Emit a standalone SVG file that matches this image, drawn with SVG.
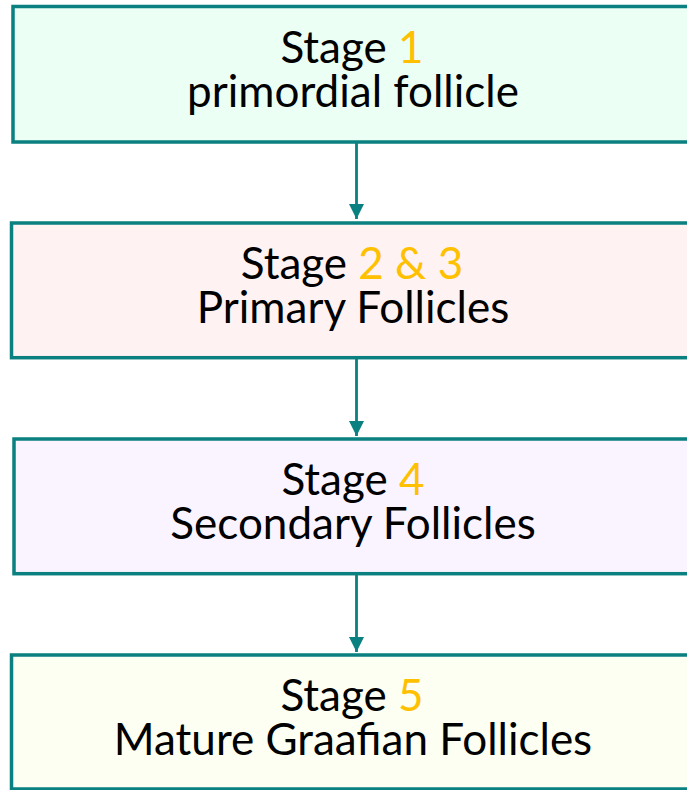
<svg xmlns="http://www.w3.org/2000/svg" width="687" height="790" viewBox="0 0 687 790">
<style>
.box{stroke:#0a8080;stroke-width:3.5}
.t{font-family:Lato,"Open Sans","Liberation Sans",sans-serif;font-size:44px;fill:#000;text-anchor:middle}
.o{fill:#ffc000}
.c{stroke:#0a8080;stroke-width:2.8;fill:none}
</style>
<defs>
<marker id="ah" markerUnits="userSpaceOnUse" markerWidth="16" markerHeight="16" refX="15" refY="7.5" orient="auto">
<path d="M0,0 L15,7.5 L0,15 Z" fill="#0a8080"/>
</marker>
</defs>
<rect width="687" height="790" fill="#fff"/>
<g id="connectors">
<line class="c" x1="356.5" y1="143" x2="356.5" y2="219" marker-end="url(#ah)"/>
<line class="c" x1="356.5" y1="359" x2="356.5" y2="436" marker-end="url(#ah)"/>
<line class="c" x1="356.5" y1="575" x2="356.5" y2="652" marker-end="url(#ah)"/>
</g>
<g id="node1">
<rect class="box" x="13" y="6.5" width="690" height="135.5" fill="#ebfff4"/>
<text class="t"><tspan x="352" y="63">Stage <tspan class="o">1</tspan></tspan><tspan x="353" y="107">primordial follicle</tspan></text>
</g>
<g id="node2">
<rect class="box" x="11.5" y="223" width="690" height="134.7" fill="#fff2f2"/>
<text class="t"><tspan x="352" y="279">Stage <tspan class="o">2 &amp; 3</tspan></tspan><tspan x="353" y="323">Primary Follicles</tspan></text>
</g>
<g id="node3">
<rect class="box" x="14" y="439" width="690" height="134.7" fill="#f9f4ff"/>
<text class="t"><tspan x="353" y="495">Stage <tspan class="o">4</tspan></tspan><tspan x="353" y="539">Secondary Follicles</tspan></text>
</g>
<g id="node4">
<rect class="box" x="11.5" y="655" width="690" height="134" fill="#fcfff1"/>
<text class="t"><tspan x="352" y="711">Stage <tspan class="o">5</tspan></tspan><tspan x="353" y="755">Mature Graafian Follicles</tspan></text>
</g>
</svg>
